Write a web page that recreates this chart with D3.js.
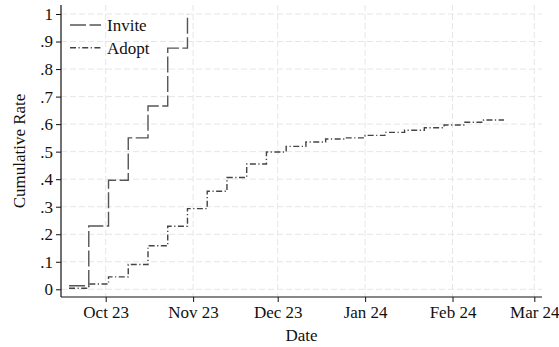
<!DOCTYPE html>
<html>
<head>
<meta charset="utf-8">
<script src="https://cdn.jsdelivr.net/npm/d3@7"></script>
<style>
  body { margin: 0; background: #fff; }
  svg text { font-family: "Liberation Serif", "Times New Roman", serif; fill: #111; }
</style>
</head>
<body>
<div id="chart"></div>
<script>
// weekly observation dates (Mondays)
var weeks = ['2023-09-18','2023-09-25','2023-10-02','2023-10-09','2023-10-16','2023-10-23','2023-10-30',
  '2023-11-06','2023-11-13','2023-11-20','2023-11-27','2023-12-04','2023-12-11','2023-12-18','2023-12-25',
  '2024-01-01','2024-01-08','2024-01-15','2024-01-22','2024-01-29','2024-02-05','2024-02-12','2024-02-19'];
var inviteRate = [0.013, 0.23, 0.396, 0.55, 0.666, 0.876, 1.0];
var adoptRate = [0.004, 0.019, 0.045, 0.09, 0.158, 0.229, 0.293, 0.356, 0.406, 0.455, 0.499, 0.519,
  0.535, 0.546, 0.550, 0.559, 0.570, 0.578, 0.587, 0.597, 0.607, 0.615, 0.618];
var xTickDates = ['2023-10-01','2023-11-01','2023-12-01','2024-01-01','2024-02-01','2024-03-01'];
var xTickLabels = ['Oct 23','Nov 23','Dec 23','Jan 24','Feb 24','Mar 24'];
var yTicks = [0, 0.1, 0.2, 0.3, 0.4, 0.5, 0.6, 0.7, 0.8, 0.9, 1];
var seriesNames = ['Invite', 'Adopt'];

var W = 559, H = 347;
var plot = {left: 61, right: 542, top: 5, bottom: 297};
var parse = d3.utcParse('%Y-%m-%d');

var svg = d3.select('#chart').append('svg').attr('width', W).attr('height', H);

var x = d3.scaleUtc()
  .domain([parse(xTickDates[0]), parse(xTickDates[5])])
  .range([105.7, 534.3]);
x.domain([x.invert(plot.left), x.invert(plot.right)]).range([plot.left, plot.right]);

var y = d3.scaleLinear().domain([0, 1]).range([289.3, 14]);

// grid
var grid = svg.append('g').attr('stroke', '#e6e6e6').attr('stroke-width', 1).attr('stroke-dasharray', '6,3');
grid.selectAll('line.h').data(yTicks).enter().append('line')
  .attr('x1', plot.left).attr('x2', plot.right)
  .attr('y1', function(d) { return y(d); }).attr('y2', function(d) { return y(d); });
grid.selectAll('line.v').data(xTickDates).enter().append('line')
  .attr('y1', plot.top).attr('y2', plot.bottom)
  .attr('x1', function(d) { return x(parse(d)); }).attr('x2', function(d) { return x(parse(d)); });

// series
var line = d3.line()
  .x(function(d) { return x(d.date); })
  .y(function(d) { return y(d.v); })
  .curve(d3.curveStepAfter);

var inviteData = inviteRate.map(function(v, i) { return {date: parse(weeks[i]), v: v}; });
var adoptData = adoptRate.map(function(v, i) { return {date: parse(weeks[i]), v: v}; });

var styles = [
  {data: inviteData, color: '#555', dash: '16,3.5'},
  {data: adoptData, color: '#444', dash: '6,2.5,1.2,2.5'}
];

styles.forEach(function(s) {
  svg.append('path')
    .datum(s.data)
    .attr('fill', 'none')
    .attr('stroke', s.color)
    .attr('stroke-width', 1.4)
    .attr('stroke-dasharray', s.dash)
    .attr('d', line);
});

// axes
var yAxis = d3.axisLeft(y).tickValues(yTicks).tickSize(5).tickPadding(3)
  .tickFormat(function(d) { return d === 0 ? '0' : d === 1 ? '1' : d.toFixed(1).replace('0.', '.'); });
var gy = svg.append('g').attr('transform', 'translate(' + plot.left + ',0)').call(yAxis);
gy.select('.domain').remove();
gy.selectAll('text').attr('font-size', 17).attr('font-family', '"Liberation Serif", serif').attr('fill', '#111');
gy.selectAll('line').attr('stroke', '#111');
svg.append('line').attr('x1', plot.left).attr('x2', plot.left).attr('y1', plot.top).attr('y2', plot.bottom)
  .attr('stroke', '#111').attr('stroke-width', 1.2);

var xAxis = d3.axisBottom(x).tickValues(xTickDates.map(parse)).tickSize(5).tickPadding(4)
  .tickFormat(function(d, i) { return xTickLabels[i]; });
var gx = svg.append('g').attr('transform', 'translate(0,' + plot.bottom + ')').call(xAxis);
gx.select('.domain').remove();
gx.selectAll('text').attr('font-size', 17).attr('font-family', '"Liberation Serif", serif').attr('fill', '#111');
gx.selectAll('line').attr('stroke', '#111');
svg.append('line').attr('x1', plot.left).attr('x2', plot.right).attr('y1', plot.bottom).attr('y2', plot.bottom)
  .attr('stroke', '#111').attr('stroke-width', 1.2);

// axis titles
svg.append('text').attr('x', (plot.left + plot.right) / 2).attr('y', 341)
  .attr('text-anchor', 'middle').attr('font-size', 17).text('Date');
svg.append('text').attr('transform', 'translate(25,' + ((plot.top + plot.bottom) / 2) + ') rotate(-90)')
  .attr('text-anchor', 'middle').attr('font-size', 17).text('Cumulative Rate');

// legend
var legend = svg.append('g');
seriesNames.forEach(function(name, i) {
  var ly = 25 + i * 22.7;
  legend.append('line').attr('x1', 70).attr('x2', 101).attr('y1', ly).attr('y2', ly)
    .attr('stroke', styles[i].color).attr('stroke-width', 1.4).attr('stroke-dasharray', styles[i].dash);
  legend.append('text').attr('x', 107).attr('y', ly + 6).attr('font-size', 17).text(name);
});
</script>
</body>
</html>
